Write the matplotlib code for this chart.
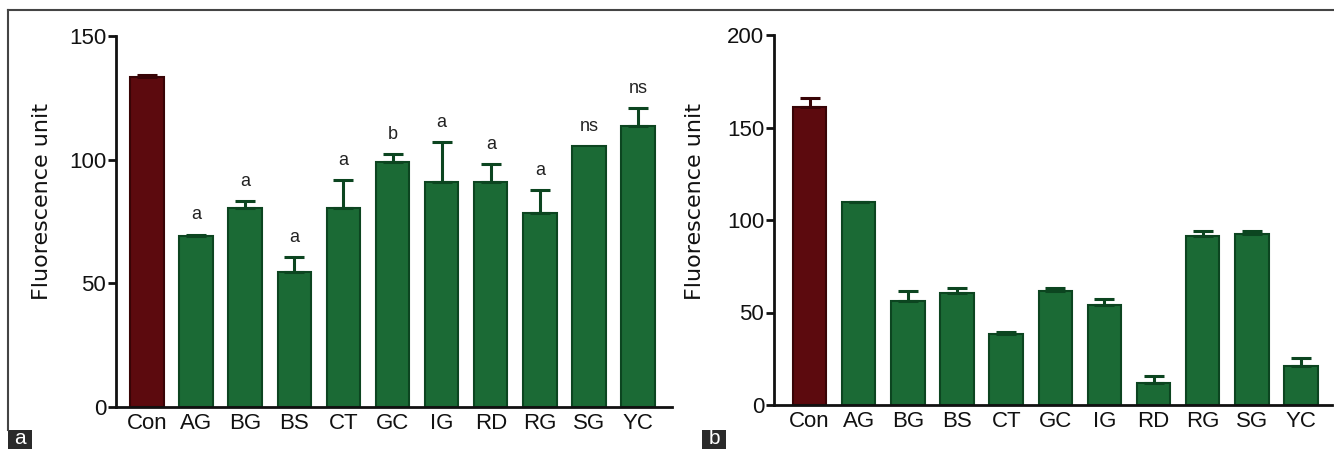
import matplotlib
matplotlib.use("Agg")
import matplotlib.pyplot as plt
from matplotlib.lines import Line2D
from matplotlib.patches import Rectangle

plt.rcParams['font.family'] = ['Liberation Sans', 'DejaVu Sans']

categories = ["Con", "AG", "BG", "BS", "CT", "GC", "IG", "RD", "RG", "SG", "YC"]

# Panel a
values_a = [133.6, 69.2, 80.6, 54.4, 80.6, 99.1, 90.8, 90.8, 78.3, 105.5, 113.7]
errors_a = [0.6, 0.5, 2.8, 6.2, 11.1, 3.1, 16.2, 7.3, 9.3, 0.0, 7.0]
letters_a = ["", "a", "a", "a", "a", "b", "a", "a", "a", "ns", "ns"]
yticks_a = [0, 50, 100, 150]

# Panel b
values_b = [161.2, 109.6, 56.3, 60.5, 38.4, 61.7, 53.8, 11.7, 91.5, 92.6, 21.3]
errors_b = [5.0, 0.3, 5.4, 2.7, 1.0, 1.3, 3.6, 4.0, 2.4, 1.3, 4.0]
yticks_b = [0, 50, 100, 150, 200]

W, H = 1334, 449
fig = plt.figure(figsize=(W / 100, H / 100), dpi=100)

con_color = "#5c0a0e"
con_edge = "#380406"
green = "#1b6a35"
green_edge = "#0c4520"


def px_axes(x0, y0, x1, y1):
    return fig.add_axes([x0 / W, 1 - y1 / H, (x1 - x0) / W, (y1 - y0) / H])


def draw_panel(ax, values, errors, yticks, xlim, letters=None):
    xs = list(range(len(categories)))
    colors = [con_color] + [green] * (len(categories) - 1)
    edges = [con_edge] + [green_edge] * (len(categories) - 1)
    ax.bar(xs, values, width=0.68, color=colors, edgecolor=edges, linewidth=1.5, zorder=2)
    for x, v, e, c in zip(xs, values, errors, edges):
        if e > 0:
            ax.errorbar([x], [v], yerr=[[0], [e]], fmt='none', ecolor=c,
                        elinewidth=2.2, capsize=7, capthick=2.2, zorder=3)
    if letters:
        for x, v, e, t in zip(xs, values, errors, letters):
            if t:
                ax.text(x, v + e + 4.5, t, ha='center', va='bottom', fontsize=13,
                        color="#222222")
    ax.set_xlim(*xlim)
    ax.set_ylim(0, yticks[-1])
    ax.set_yticks(yticks)
    ax.set_xticks(xs)
    ax.set_xticklabels(categories)
    for s in ["top", "right"]:
        ax.spines[s].set_visible(False)
    for s in ["left", "bottom"]:
        ax.spines[s].set_linewidth(2.0)
        ax.spines[s].set_color("#111111")
    ax.tick_params(axis='y', length=6, width=2, labelsize=16, pad=1, colors="#111111")
    ax.tick_params(axis='x', length=0, labelsize=16, pad=4, colors="#111111")
    ax.set_facecolor("none")


ax_a = px_axes(116, 36, 672, 407)
draw_panel(ax_a, values_a, errors_a, yticks_a, (-0.63, 10.69), letters_a)
ax_a.set_ylabel("Fluorescence unit", fontsize=16, family=['DejaVu Sans'], color="#111111")
ax_a.yaxis.set_label_coords(-0.115, 0.553)

ax_b = px_axes(774, 35, 1332, 405)
draw_panel(ax_b, values_b, errors_b, yticks_b, (-0.725, 10.63))
ax_b.set_ylabel("Fluorescence unit", fontsize=16, family=['DejaVu Sans'], color="#111111")
ax_b.yaxis.set_label_coords(-0.124, 0.549)

# frame lines
fig.add_artist(Line2D([8 / W, 1.0], [1 - 10 / H, 1 - 10 / H], color="#444444", lw=1.5))
fig.add_artist(Line2D([8 / W, 8 / W], [1 - 10 / H, 1 - 430 / H], color="#444444", lw=1.5))

# panel labels
for x0, lab in [(8, "a"), (702, "b")]:
    fig.add_artist(Rectangle((x0 / W, 0), 24 / W, 19 / H, transform=fig.transFigure,
                             facecolor="#2a2a2a", edgecolor="none"))
    fig.text((x0 + 12) / W, 1 / H, lab, color="white", fontsize=15, ha='center', va='bottom')

fig.savefig("out.png", dpi=100)
